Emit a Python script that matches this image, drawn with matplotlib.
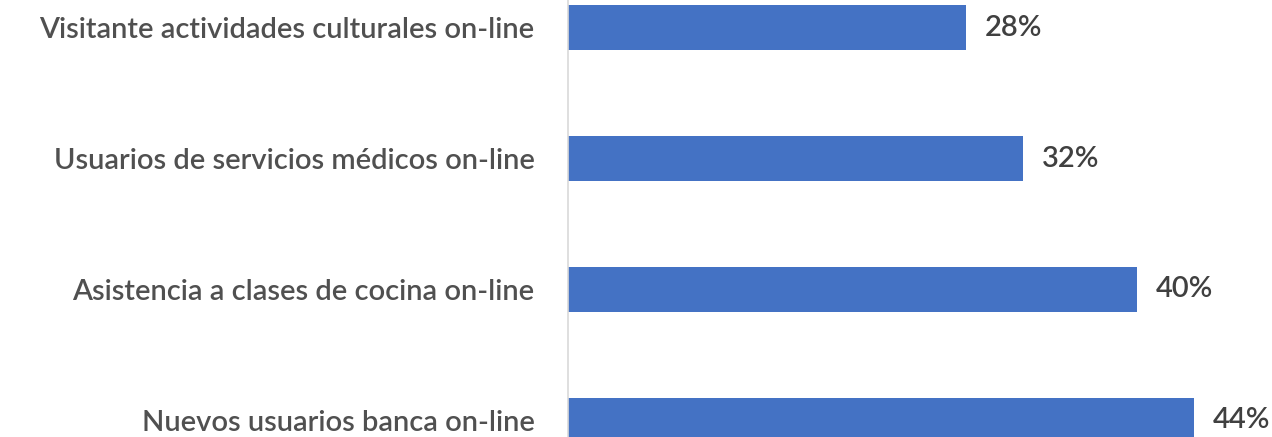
import matplotlib
matplotlib.use("Agg")
import matplotlib.pyplot as plt

categories = [
    "Visitante actividades culturales on-line",
    "Usuarios de servicios médicos on-line",
    "Asistencia a clases de cocina on-line",
    "Nuevos usuarios banca on-line",
]
values = [28, 32, 40, 44]
value_labels = ["28%", "32%", "40%", "44%"]

W, H, DPI = 1272, 437, 100
fig = plt.figure(figsize=(W / DPI, H / DPI), dpi=DPI)
fig.patch.set_facecolor("white")

ax = fig.add_axes([568 / W, 0.0, 1 - 568 / W, 1.0])
pos = list(range(len(categories)))
ax.barh(pos, values, height=0.344, color="#4472C4", zorder=2)

ax.set_xlim(0, 49.5)
ax.set_ylim(3.126, -0.21)

for s in ["top", "right", "bottom"]:
    ax.spines[s].set_visible(False)
ax.spines["left"].set_color("#d9d9d9")
ax.spines["left"].set_linewidth(1.2)
ax.set_xticks([])
ax.set_yticks(pos)
ax.set_yticklabels(categories, fontfamily="Lato", fontsize=21, fontweight="semibold",
                   color="#505050")
ax.tick_params(axis="y", length=0, pad=24)

for p, v, lab in zip(pos, values, value_labels):
    ax.annotate(lab, (v, p), xytext=(13.5, 0), textcoords="offset points",
                va="center", ha="left", fontfamily="Lato", fontsize=21,
                fontweight="semibold", color="#404040")

fig.savefig("out.png", dpi=DPI)
